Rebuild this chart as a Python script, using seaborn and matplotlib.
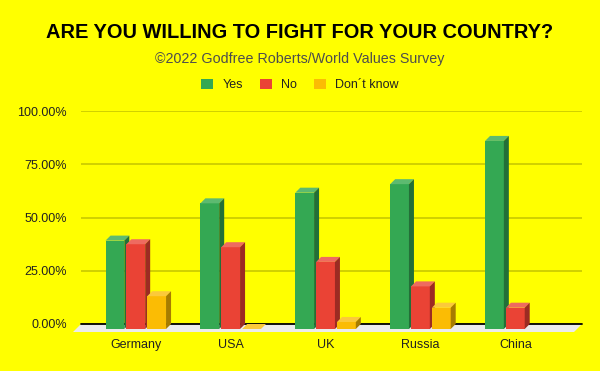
import numpy as np
import pandas as pd
import matplotlib.pyplot as plt
import seaborn as sns
from matplotlib import transforms
from matplotlib.colors import to_hex
from matplotlib.patches import Patch, Polygon

# Values (percent)
countries = ["Germany", "USA", "UK", "Russia", "China"]
answers = ["Yes", "No", "Don´t know"]
yes_pct = [41.5, 59.0, 64.0, 68.0, 88.3]
no_pct = [39.8, 38.4, 31.5, 20.0, 10.0]
dont_know_pct = [15.4, 0.0, 3.3, 10.0, np.nan]

TITLE = "ARE YOU WILLING TO FIGHT FOR YOUR COUNTRY?"
SUBTITLE = "©2022 Godfree Roberts/World Values Survey"

YELLOW = "#ffff00"
FRONT = ["#34a853", "#ea4335", "#fbbc04"]
TOP = ["#5dba70", "#ee6b60", "#fbc93b"]
SIDE = ["#236f38", "#9c2b23", "#a77c00"]
GRID = "#c8c800"
DEPTH = 5  # px, 3d depth of the bars
FLOOR = 8  # px, depth of the floor slab

sns.set_style("white")
plt.rcParams["font.family"] = ["Liberation Sans", "DejaVu Sans"]

df = pd.DataFrame({
    "country": countries * 3,
    "answer": np.repeat(answers, len(countries)),
    "pct": yes_pct + no_pct + dont_know_pct,
})

fig = plt.figure(figsize=(6, 3.71), dpi=100, facecolor=YELLOW)
ax = fig.add_axes([81 / 600, 1 - 324 / 371, 501 / 600, 213 / 371])
ax.set_facecolor("none")

sns.barplot(data=df, x="country", y="pct", hue="answer", hue_order=answers,
            palette=FRONT, saturation=1, width=0.66, gap=0.1, errorbar=None,
            legend=False, ax=ax)

ax.set_xlim(-0.63, 4.65)
ax.set_ylim(0, 100)

# pixel -> data conversion for the fake 3d offsets
p0 = ax.transData.transform((0, 0))
p1 = ax.transData.transform((1, 1))
dx = DEPTH / (p1[0] - p0[0])
dy = DEPTH / (p1[1] - p0[1])
fx = FLOOR / (p1[0] - p0[0])
fy = FLOOR / (p1[1] - p0[1])

# front faces sit lower-left of the back plane (where the gridlines are)
front = transforms.offset_copy(ax.transData, fig=fig, x=-DEPTH, y=-DEPTH, units="dots")

bars = list(ax.patches)
for bar in bars:
    k = [c.lower() for c in FRONT].index(to_hex(bar.get_facecolor()))
    x0, w, h = bar.get_x(), bar.get_width(), bar.get_height()
    if not np.isfinite(h):
        bar.set_visible(False)
        continue
    z = 3 + k
    bar.set_transform(front)
    bar.set_clip_on(False)
    bar.set_linewidth(0)
    bar.set_zorder(z)
    top = Polygon([(x0, h), (x0 + w, h), (x0 + w + dx, h + dy), (x0 + dx, h + dy)],
                  closed=True, transform=front, facecolor=TOP[k], lw=0,
                  clip_on=False, zorder=z)
    side = Polygon([(x0 + w, 0), (x0 + w + dx, dy), (x0 + w + dx, h + dy), (x0 + w, h)],
                   closed=True, transform=front, facecolor=SIDE[k], lw=0,
                   clip_on=False, zorder=z)
    ax.add_patch(top)
    ax.add_patch(side)

# floor slab under the bars
xl, xr = ax.get_xlim()
floor = Polygon([(xl, 0), (xr, 0), (xr - fx, -fy), (xl - fx, -fy)], closed=True,
                facecolor="#ececec", lw=0, clip_on=False, zorder=1)
ax.add_patch(floor)
ax.axhline(0, color="black", lw=1.3, zorder=2, clip_on=False)

ax.set_yticks([0, 25, 50, 75, 100])
ax.set_yticklabels([f"{v:.2f}%" for v in [0, 25, 50, 75, 100]])
ax.yaxis.grid(True, color=GRID, lw=1.2)
ax.set_axisbelow(True)
ax.set_xticks(np.arange(len(countries)) - dx, countries)
ax.tick_params(axis="y", length=0, pad=10, labelsize=9, labelcolor="#222222")
ax.tick_params(axis="x", length=0, pad=11, labelsize=9, labelcolor="#222222")
ax.set_xlabel("")
ax.set_ylabel("")
sns.despine(ax=ax, left=True, bottom=True)

fig.text(0.5, 1 - 38.3 / 371, TITLE, ha="center", va="baseline",
         fontsize=14.4, fontweight="bold", color="black")
fig.text(0.5, 1 - 63.3 / 371, SUBTITLE, ha="center", va="baseline",
         fontsize=10.3, color="#4d4d4d")

handles = [Patch(facecolor=c, edgecolor="none") for c in FRONT]
fig.legend(handles, answers, loc="center", bbox_to_anchor=(0.5, 1 - 85 / 371),
           ncol=3, frameon=False, fontsize=9, handlelength=0.95, handleheight=0.95,
           handletextpad=0.75, columnspacing=1.35, labelcolor="#222222")

fig.savefig("out.png", dpi=100, facecolor=YELLOW)
